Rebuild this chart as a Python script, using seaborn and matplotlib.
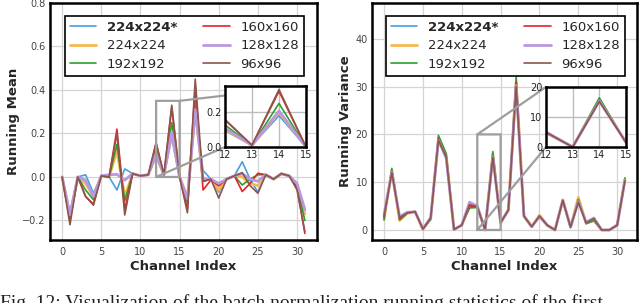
import matplotlib
matplotlib.use("Agg")
import matplotlib.pyplot as plt
import seaborn as sns

channels = list(range(32))
series_labels = ["224x224*", "224x224", "192x192", "160x160", "128x128", "96x96"]

mean_224s = [0.0, -0.165, 0.0, 0.01, -0.075, 0.005, 0.0, -0.06, 0.037, 0.015, 0.005, 0.01,
             0.093, 0.01, 0.18, 0.0, -0.09, 0.29, 0.03, -0.01, -0.07, -0.01, 0.005, 0.07,
             -0.01, -0.07, 0.01, -0.01, 0.015, 0.005, -0.03, -0.15]
mean_224 = [0.0, -0.18, 0.0, -0.03, -0.09, 0.005, 0.0, 0.12, -0.09, 0.015, 0.005, 0.01,
            0.10, 0.01, 0.20, 0.0, -0.10, 0.31, -0.017, -0.01, -0.06, -0.01, 0.005, 0.0,
            -0.03, -0.04, 0.01, -0.01, 0.015, 0.005, -0.035, -0.17]
mean_192 = [0.0, -0.19, 0.0, -0.06, -0.105, 0.005, 0.0, 0.15, -0.11, 0.015, 0.005, 0.01,
            0.126, 0.01, 0.25, 0.0, -0.12, 0.35, -0.02, -0.01, -0.04, -0.01, 0.005, -0.037,
            -0.01, 0.01, 0.01, -0.01, 0.015, 0.005, -0.04, -0.20]
mean_160 = [0.0, -0.20, 0.0, -0.09, -0.125, 0.005, 0.0, 0.22, -0.15, 0.015, 0.005, 0.01,
            0.155, 0.01, 0.32, 0.0, -0.15, 0.42, -0.06, -0.014, -0.04, -0.01, 0.005, -0.067,
            -0.03, 0.017, 0.01, -0.01, 0.015, 0.005, -0.05, -0.26]
mean_128 = [0.0, -0.175, 0.0, -0.015, -0.09, 0.005, 0.01, 0.012, -0.015, 0.015, 0.005, 0.01,
            0.107, 0.01, 0.207, 0.0, -0.10, 0.31, -0.01, -0.01, -0.03, -0.01, 0.005, 0.015,
            -0.01, -0.02, 0.01, -0.01, 0.015, 0.005, -0.03, -0.15]
mean_96 = [0.0, -0.22, 0.0, -0.09, -0.13, 0.005, 0.0, 0.20, -0.175, 0.015, 0.005, 0.01,
           0.158, 0.01, 0.33, 0.0, -0.165, 0.45, -0.02, -0.01, -0.097, -0.01, 0.005, 0.02,
           -0.04, -0.075, 0.01, -0.01, 0.015, 0.005, -0.06, -0.25]

var_224s = [2.5, 12.2, 2.6, 3.6, 3.8, 0.2, 2.4, 18.9, 15.4, 0.1, 1.0, 5.6, 4.9, 0.0, 15.6, 1.6,
            4.3, 30.6, 2.9, 0.7, 2.8, 1.0, 0.0, 6.2, 0.6, 6.2, 1.5, 2.4, 0.0, 0.0, 1.0, 10.5]
var_224 = [2.3, 12.4, 2.0, 3.5, 3.8, 0.2, 2.3, 19.2, 15.6, 0.1, 1.0, 5.0, 4.8, 0.0, 15.8, 1.5,
           4.2, 31.0, 3.0, 0.7, 3.1, 1.0, 0.0, 6.3, 0.6, 6.8, 1.4, 2.1, 0.0, 0.0, 1.0, 10.6]
var_192 = [2.1, 12.9, 2.1, 3.5, 3.9, 0.1, 2.2, 19.8, 16.0, 0.1, 1.1, 4.6, 4.7, 0.0, 16.4, 1.4,
           4.3, 32.0, 2.8, 0.6, 2.9, 0.9, 0.0, 6.1, 0.5, 6.4, 1.3, 1.9, 0.0, 0.0, 1.1, 10.9]
var_160 = [2.7, 12.3, 2.4, 3.6, 3.8, 0.2, 2.5, 19.1, 15.3, 0.1, 1.0, 5.0, 4.9, 0.0, 15.4, 1.5,
           4.2, 30.8, 2.9, 0.7, 2.9, 1.0, 0.0, 6.2, 0.6, 6.0, 1.5, 2.3, 0.0, 0.0, 1.0, 10.5]
var_128 = [3.3, 12.1, 2.8, 3.7, 3.8, 0.2, 2.6, 18.8, 15.0, 0.1, 1.0, 5.8, 5.0, 0.0, 15.3, 1.6,
           4.1, 30.2, 2.9, 0.7, 2.8, 1.0, 0.0, 6.2, 0.6, 5.9, 1.6, 2.5, 0.0, 0.0, 1.0, 10.4]
var_96 = [2.9, 12.0, 2.6, 3.6, 3.8, 0.2, 2.5, 18.8, 15.2, 0.1, 1.0, 5.3, 4.9, 0.0, 15.2, 1.5,
          4.2, 30.0, 2.9, 0.7, 2.9, 1.0, 0.0, 6.2, 0.6, 5.8, 1.5, 2.4, 0.0, 0.0, 1.0, 10.3]

mean_series = [mean_224s, mean_224, mean_192, mean_160, mean_128, mean_96]
var_series = [var_224s, var_224, var_192, var_160, var_128, var_96]

colors = ["#4a9ee0", "#f7b84f", "#2ca02c", "#e8212a", "#b898e0", "#8c564b"]
widths = [1.2, 2.0, 1.2, 1.2, 2.0, 1.2]

sns.set_style("whitegrid")
plt.rcParams["font.family"] = ["DejaVu Sans"]

W, H = 640, 303
fig = plt.figure(figsize=(6.4, 3.03), dpi=100)

GRID = "#d4d4d4"


def style_axes(ax, tick_size=7, tick_color="#444444", spine_lw=1.8):
    for s in ax.spines.values():
        s.set_visible(True)
        s.set_color("black")
        s.set_linewidth(spine_lw)
    ax.grid(True, color=GRID, linewidth=0.9)
    ax.tick_params(axis="both", length=0, labelsize=tick_size, labelcolor=tick_color)
    ax.tick_params(axis="x", pad=5)
    ax.tick_params(axis="y", pad=3)


def draw(ax, data, show_label=True):
    for vals, lab, c, lw in zip(data, series_labels, colors, widths):
        sns.lineplot(x=channels, y=vals, ax=ax, color=c, linewidth=lw,
                     label=lab if show_label else None, legend=False)


def add_legend(ax):
    leg = ax.legend(loc="upper center", bbox_to_anchor=(0.503, 0.972), ncol=2,
                    frameon=True, fancybox=False, edgecolor="black", framealpha=1,
                    fontsize=9.5, borderpad=0.35, handlelength=2.0, columnspacing=2.0,
                    labelspacing=0.42)
    leg.get_frame().set_linewidth(1.2)
    leg.get_texts()[0].set_fontweight("bold")


panels = [
    (50, 267, mean_series, "Running Mean", (-0.29, 0.8), [-0.2, 0.0, 0.2, 0.4, 0.6, 0.8],
     (225, 86, 81, 61), (0.0, 0.35), [0.0, 0.2], 1.5),
    (372, 265, var_series, "Running Variance", (-2.1, 47.5), [0, 10, 20, 30, 40],
     (546, 87, 80, 60), (0, 20), [0, 10, 20], 2.5),
]

for left, width, data, ylab, ylim, yticks, ins, ins_ylim, ins_yticks, lpad in panels:
    ax = fig.add_axes([left / W, 1 - 240 / H, width / W, 237 / H])
    draw(ax, data)
    style_axes(ax)
    ax.set_xlim(-1.55, 32.55)
    ax.set_ylim(*ylim)
    ax.set_xticks([0, 5, 10, 15, 20, 25, 30])
    ax.set_yticks(yticks)
    ax.set_xlabel("Channel Index", fontsize=9.5, fontweight="bold", labelpad=2)
    ax.set_ylabel(ylab, fontsize=9.5, fontweight="bold", labelpad=lpad)
    add_legend(ax)

    ix, iy, iw, ih = ins
    axins = fig.add_axes([ix / W, 1 - (iy + ih) / H, iw / W, ih / H])
    draw(axins, data, show_label=False)
    style_axes(axins, tick_size=7, tick_color="#222222", spine_lw=1.8)
    axins.grid(True, color="#bdbdbd", linewidth=1.0)
    axins.set_xlim(12, 15)
    axins.set_ylim(*ins_ylim)
    axins.set_xticks([12, 13, 14, 15])
    axins.set_yticks(ins_yticks)
    axins.tick_params(axis="x", pad=2.5)
    axins.tick_params(axis="y", pad=2.5)
    axins.set_xlabel("")
    axins.set_ylabel("")
    ax.indicate_inset_zoom(axins, edgecolor="#9e9e9e", alpha=1.0, linewidth=1.6)

fig.text(0.0, 1 - 294 / H,
         "Fig. 12: Visualization of the batch normalization running statistics of the first",
         ha="left", va="top", fontsize=14, family=["Liberation Serif", "DejaVu Serif"],
         color="#222222")

fig.savefig("out.png", dpi=100)
